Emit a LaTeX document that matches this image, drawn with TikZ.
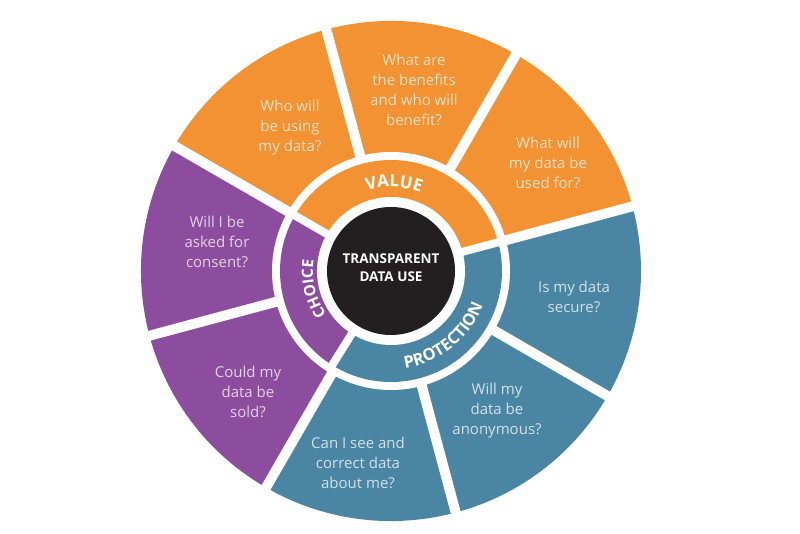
\documentclass[tikz,border=0pt]{standalone}
\usepackage{fontspec}
\setmainfont{Open Sans}
\usetikzlibrary{calc,decorations.text}
\definecolor{vorange}{HTML}{F39233}
\definecolor{vpurple}{HTML}{8D4D9F}
\definecolor{vblue}{HTML}{4A86A3}
\definecolor{vblack}{HTML}{231F20}
\tikzset{
  qtext/.style={align=center,font=\fontsize{15}{20}\selectfont,inner sep=0pt},
  otext/.style={qtext,text=white!72!vorange},
  ptext/.style={qtext,text=white!75!vpurple},
  btext/.style={qtext,text=white!75!vblue},
  gapline/.style={white,line width=10pt},
  ringgap/.style={white,line width=8pt},
}
\newcommand{\lblfontA}{\bfseries\fontsize{17}{17}\selectfont}
\newcommand{\lblfontB}{\bfseries\fontsize{15.5}{15.5}\selectfont}
\newcommand{\lblfontC}{\bfseries\fontsize{16.5}{16.5}\selectfont}
\begin{document}
\begin{tikzpicture}[x=1pt,y=1pt]
\useasboundingbox (0,0) rectangle (800,533);
\fill[white] (0,0) rectangle (800,533);
\coordinate (C) at (391,262);
% outer colored sectors
\fill[vorange] (C) -- ($(C)+(15:250pt)$) arc[start angle=15,end angle=150,radius=250pt] -- cycle;
\fill[vpurple] (C) -- ($(C)+(150:250pt)$) arc[start angle=150,end angle=240,radius=250pt] -- cycle;
\fill[vblue] (C) -- ($(C)+(240:250pt)$) arc[start angle=240,end angle=375,radius=250pt] -- cycle;
\fill[white] (C) circle[radius=119pt];
% middle ring
\fill[vorange] (C) -- ($(C)+(15:111pt)$) arc[start angle=15,end angle=150,radius=111pt] -- cycle;
\fill[vpurple] (C) -- ($(C)+(150:111pt)$) arc[start angle=150,end angle=238,radius=111pt] -- cycle;
\fill[vblue] (C) -- ($(C)+(238:111pt)$) arc[start angle=238,end angle=375,radius=111pt] -- cycle;
\fill[white] (C) circle[radius=74pt];
\fill[vblack] (C) circle[radius=64pt];
% dividers
\foreach \a in {15,60,105,150,195,240,285,330}
  \draw[gapline] ($(C)+(\a:114pt)$) -- ($(C)+(\a:258pt)$);
\foreach \a in {15,150,238}
  \draw[ringgap] ($(C)+(\a:72pt)$) -- ($(C)+(\a:114pt)$);
% questions
\node[otext] (q1) at (290,405) {Who will\\be using\\my data?};
\node[otext] (q2) at (414,443) {What are\\the benefits\\and who will\\benefit?};
\node[otext] (q3) at (548,370) {What will\\my data be\\used for?};
\node[btext] (q4) at (574,236) {Is my data\\secure?};
\node[btext] (q5) at (497,122) {Will my\\data be\\anonymous?};
\node[btext] (q6) at (358,70) {Can I see and\\correct data\\about me?};
\node[ptext] (q7) at (248,141) {Could my\\data be\\sold?};
\node[ptext] (q8) at (217,291) {Will I be\\asked for\\consent?};
% center
\node[align=center,text=white,font=\bfseries\fontsize{13.5}{18}\selectfont,inner sep=0pt] (ctr) at (391,265) {TRANSPARENT\\DATA USE};
% ring labels
\path[decorate,decoration={text along path,text={|\lblfontA|VALUE},text align=center,text color=white}]
  ($(C)+(118:84pt)$) arc[start angle=118,end angle=58,radius=84pt];
\path[decorate,decoration={text along path,text={|\lblfontB|CHOICE},text align=center,text color=white}]
  ($(C)+(225:78pt)$) arc[start angle=225,end angle=161,radius=78pt];
\path[decorate,decoration={text along path,text={|\lblfontC|PROTECTION},text align=center,text color=white}]
  ($(C)+(-97:98pt)$) arc[start angle=-97,end angle=-5,radius=98pt];
\end{tikzpicture}
\end{document}
